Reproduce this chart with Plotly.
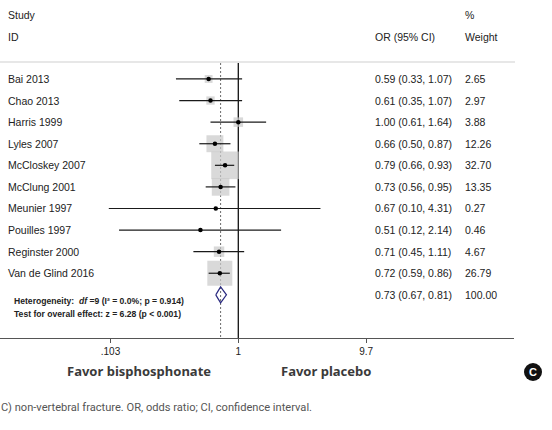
import numpy as np
import plotly.graph_objects as go

studies = ["Bai 2013", "Chao 2013", "Harris 1999", "Lyles 2007", "McCloskey 2007",
           "McClung 2001", "Meunier 1997", "Pouilles 1997", "Reginster 2000", "Van de Glind 2016"]
or_est = [0.59, 0.61, 1.00, 0.66, 0.79, 0.73, 0.67, 0.51, 0.71, 0.72]
ci_lo = [0.33, 0.35, 0.61, 0.50, 0.66, 0.56, 0.10, 0.12, 0.45, 0.59]
ci_hi = [1.07, 1.07, 1.64, 0.87, 0.93, 0.95, 4.31, 2.14, 1.11, 0.86]
weights = [2.65, 2.97, 3.88, 12.26, 32.70, 13.35, 0.27, 0.46, 4.67, 26.79]
overall = (0.73, 0.67, 0.81)
overall_weight = 100.00
tick_vals = [0.103, 1, 9.7]
tick_text = [".103", "1", "9.7"]

W, H = 552, 430
rows = list(range(1, len(studies) + 1))
row_overall = len(studies) + 1

FONT = "Arial, Liberation Sans, sans-serif"
TXT = "#222222"

fig = go.Figure()

# overall dashed line
est, lo, hi = overall
fig.add_trace(go.Scatter(x=[est, est], y=[0.26, 13], mode="lines",
                         line=dict(color="#6a6a6a", width=1, dash="2px,2px"), hoverinfo="skip"))
# reference line at 1
fig.add_trace(go.Scatter(x=[1, 1], y=[0.26, 13], mode="lines",
                         line=dict(color="#111111", width=1.3), hoverinfo="skip"))
# weight boxes
fig.add_trace(go.Scatter(x=or_est, y=rows, mode="markers",
                         marker=dict(symbol="square", color="#c9c9c9",
                                     size=[4.83 * np.sqrt(w) for w in weights],
                                     line=dict(width=0)), hoverinfo="skip"))
# CI lines
for r, l, h in zip(rows, ci_lo, ci_hi):
    fig.add_trace(go.Scatter(x=[l, h], y=[r, r], mode="lines",
                             line=dict(color="#1a1a1a", width=1.2), hoverinfo="skip"))
# point estimates
fig.add_trace(go.Scatter(x=or_est, y=rows, mode="markers",
                         marker=dict(symbol="circle", color="#000000", size=4.5),
                         hoverinfo="skip"))
# overall diamond
fig.add_trace(go.Scatter(x=[lo, est, hi, est, lo],
                         y=[row_overall, row_overall - 0.37, row_overall, row_overall + 0.37, row_overall],
                         mode="lines",
                         line=dict(color="#2a2a80", width=1.2), hoverinfo="skip"))

ann = []
def add_text(x, y, text, size=10.5, color=TXT, anchor="left", family=FONT, yref="paper", xref="paper"):
    ann.append(dict(x=x, y=y, xref=xref, yref=yref, text=text, showarrow=False,
                    xanchor=anchor, yanchor="middle",
                    font=dict(size=size, color=color, family=family)))

def py(p):
    return 1 - p / H

def px(p):
    return p / W

# headers
add_text(px(6), py(15), "Study")
add_text(px(6), py(37), "ID")
add_text(px(463), py(15), "%")
add_text(px(373), py(37), "OR (95% CI)")
add_text(px(463), py(37), "Weight")

for r, s, e, l, h, w in zip(rows, studies, or_est, ci_lo, ci_hi, weights):
    add_text(px(6), r, s, yref="y")
    add_text(px(373), r, f"{e:.2f} ({l:.2f}, {h:.2f})", yref="y")
    add_text(px(463), r, f"{w:.2f}", yref="y")
add_text(px(373), row_overall, f"{overall[0]:.2f} ({overall[1]:.2f}, {overall[2]:.2f})", yref="y")
add_text(px(463), row_overall, f"{overall_weight:.2f}", yref="y")

add_text(px(12), py(300.5), "<b>Heterogeneity:  <i>df</i> =9 (I² = 0.0%; p = 0.914)</b>", size=8.6, color="#222")
add_text(px(12), py(313.5), "<b>Test for overall effect: z = 6.28 (p &lt; 0.001)</b>", size=8.6, color="#222")

add_text(px(139), py(371), "<b>Favor bisphosphonate</b>", size=13, color="#3a3a3a",
         anchor="center", family="Noto Sans, sans-serif")
add_text(px(326), py(371), "<b>Favor placebo</b>", size=13, color="#3a3a3a",
         anchor="center", family="Noto Sans, sans-serif")

add_text(px(-1), py(407), "C) non-vertebral fracture. OR, odds ratio; CI, confidence interval.",
         size=11.1, color="#555555", family="Roboto, sans-serif")

# circle C badge
add_text(px(533), py(372), "<b>C</b>", size=11, color="white", anchor="center", family=FONT)

shapes = [
    dict(type="line", xref="paper", yref="paper", x0=0, x1=px(515), y0=py(62), y1=py(62),
         line=dict(color="#cfcfcf", width=1.2)),
    dict(type="circle", xref="paper", yref="paper", x0=px(524), x1=px(542), y0=py(381), y1=py(363),
         fillcolor="#111111", line=dict(width=0), layer="below"),
]

dec = 129.5
x_left = -238.3 / dec
x_right = (514 - 238.3) / dec

fig.update_layout(
    width=W, height=H, margin=dict(l=0, r=0, t=0, b=0),
    paper_bgcolor="white", plot_bgcolor="white", showlegend=False,
    annotations=ann, shapes=shapes,
    xaxis=dict(type="log", range=[x_left, x_right], domain=[0, px(514)],
               tickvals=tick_vals, ticktext=tick_text, ticks="outside", ticklen=4,
               tickcolor="#555", tickwidth=1, showline=True, linecolor="#555", linewidth=1.2,
               showgrid=False, zeroline=False,
               tickfont=dict(size=10, color=TXT, family=FONT), anchor="y"),
    yaxis=dict(range=[13, 0.26], domain=[py(338), py(63)], visible=False,
               showgrid=False, zeroline=False),
)

fig.write_html("out.html")
